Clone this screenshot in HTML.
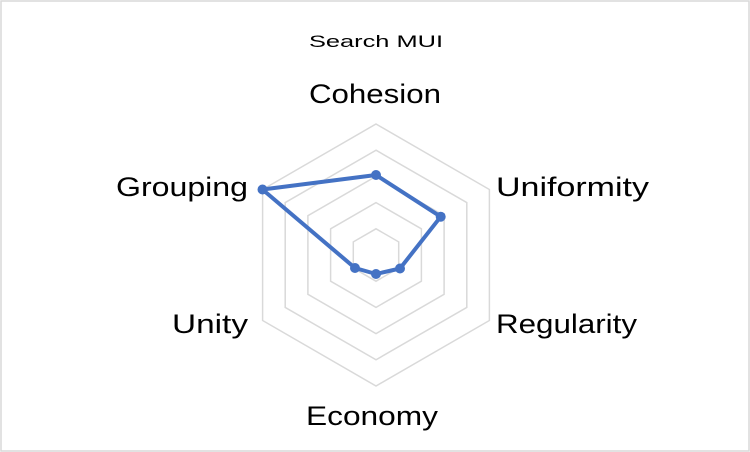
<!DOCTYPE html>
<html><head><style>
html,body{margin:0;padding:0;background:#fff;}
svg{display:block;}
text{font-family:"Liberation Sans",Carlito,sans-serif;fill:#000;}
</style></head><body>
<svg width="750" height="452" viewBox="0 0 750 452">
<rect x="1" y="1" width="748" height="450" fill="#fff" stroke="#d9d9d9" stroke-width="1.5"/>
<g fill="none" stroke="#d9d9d9" stroke-width="1.5">
<polygon points="376,124 489.4,189.5 489.4,320.5 376,386 262.6,320.5 262.6,189.5"/>
<polygon points="376,150.2 466.8,202.6 466.8,307.4 376,359.8 285.2,307.4 285.2,202.6"/>
<polygon points="376,176.4 444.1,215.7 444.1,294.3 376,333.6 307.9,294.3 307.9,215.7"/>
<polygon points="376,202.6 421.4,228.8 421.4,281.2 376,307.4 330.6,281.2 330.6,228.8"/>
<polygon points="376,228.8 398.7,241.9 398.7,268.1 376,281.2 353.3,268.1 353.3,241.9"/>
</g>
<polygon points="376,175 440.7,216.7 400,268.5 376,274 355,268 262.5,189.5" fill="none" stroke="#4472c4" stroke-width="4" stroke-linejoin="round"/>
<g fill="#4472c4">
<circle cx="376" cy="175" r="5"/><circle cx="440.7" cy="216.7" r="5"/><circle cx="400" cy="268.5" r="5"/>
<circle cx="376" cy="274" r="5"/><circle cx="355" cy="268" r="5"/><circle cx="262.5" cy="189.5" r="5"/>
</g>
<text x="309" y="47" font-size="17" textLength="134" lengthAdjust="spacingAndGlyphs">Search MUI</text>
<text x="309" y="103" font-size="27" textLength="132" lengthAdjust="spacingAndGlyphs">Cohesion</text>
<text x="116" y="196" font-size="27" textLength="132" lengthAdjust="spacingAndGlyphs">Grouping</text>
<text x="496" y="196" font-size="27" textLength="153" lengthAdjust="spacingAndGlyphs">Uniformity</text>
<text x="172" y="333" font-size="27" textLength="76" lengthAdjust="spacingAndGlyphs">Unity</text>
<text x="496" y="333" font-size="27" textLength="141" lengthAdjust="spacingAndGlyphs">Regularity</text>
<text x="306" y="425" font-size="27" textLength="132" lengthAdjust="spacingAndGlyphs">Economy</text>
</svg>
</body></html>
